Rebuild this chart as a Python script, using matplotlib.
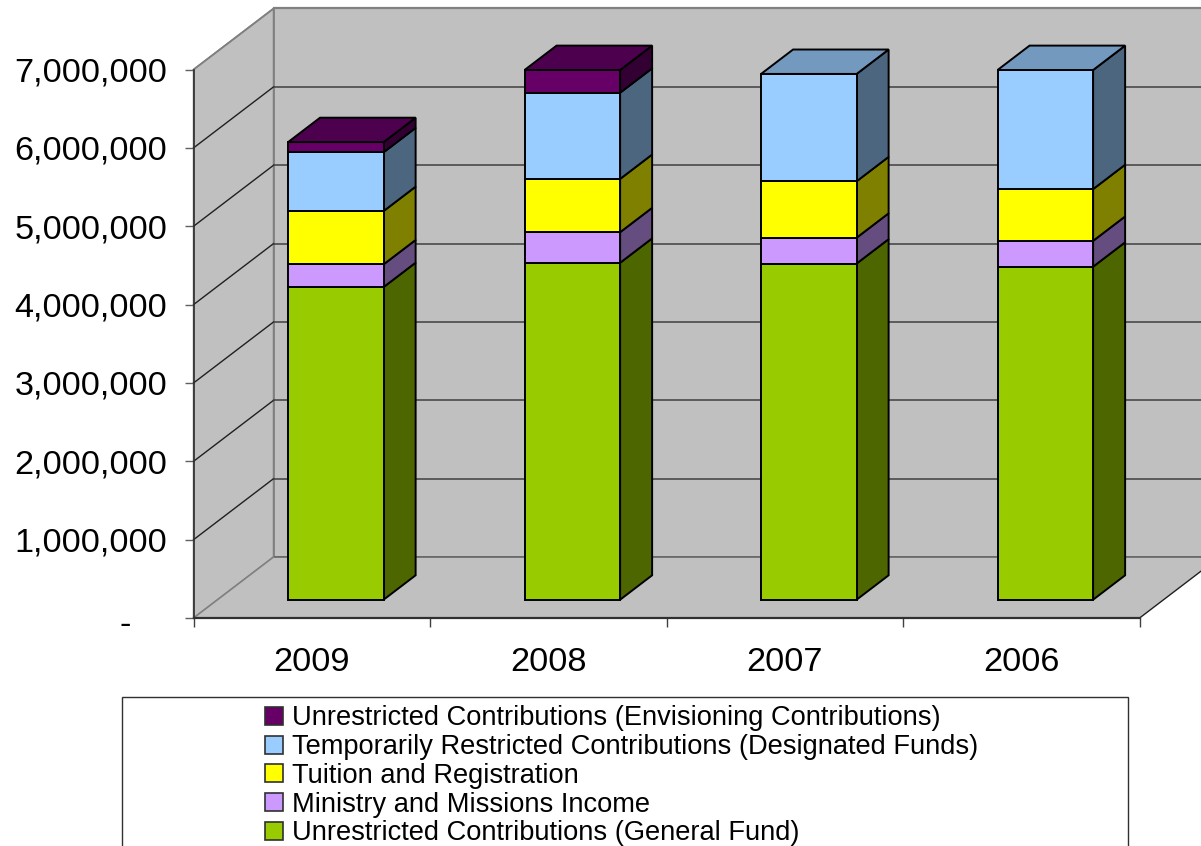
import matplotlib
matplotlib.use('Agg')
import matplotlib.pyplot as plt
from matplotlib.patches import Patch, Rectangle, Polygon
from matplotlib.transforms import ScaledTranslation

plt.rcParams['font.family'] = ['Liberation Sans', 'DejaVu Sans']

# data, top to bottom in the legend is reverse of the stack
years = ['2009', '2008', '2007', '2006']
general_fund = [3990000, 4300000, 4290000, 4250000]
ministry = [290000, 390000, 330000, 330000]
tuition = [680000, 680000, 720000, 660000]
designated = [750000, 1100000, 1370000, 1520000]
envisioning = [130000, 290000, 0, 0]

y_ticks = [0, 1000000, 2000000, 3000000, 4000000, 5000000, 6000000, 7000000]

names = ['Unrestricted Contributions (General Fund)', 'Ministry and Missions Income',
         'Tuition and Registration', 'Temporarily Restricted Contributions (Designated Funds)',
         'Unrestricted Contributions (Envisioning Contributions)']
series = [general_fund, ministry, tuition, designated, envisioning]
front_cols = ['#99CC00', '#CC99FF', '#FFFF00', '#99CCFF', '#660066']
side_cols = ['#4D6600', '#664D80', '#808000', '#4D6680', '#330033']
top_cols = ['#739900', '#9973BF', '#BFBF00', '#7399BF', '#4D004D']

W, H = 1201, 846
fig = plt.figure(figsize=(W / 100, H / 100), dpi=100)
ax = fig.add_axes([193.6 / W, (H - 618) / H, 946 / W, 548.5 / H])
ax.set_xlim(0, 4)
ax.set_ylim(0, 7000000)
ax.patch.set_visible(False)

# how far one unit of depth moves a point, in data units
DX = 80 / 236.5
DY = 61 / 78.35 * 1000000


def proj(x, y, d):
    return (x + d * DX, y + d * DY)


def poly(points, face, edge, lw, z):
    ax.add_patch(Polygon([proj(*p) for p in points], closed=True, facecolor=face,
                         edgecolor=edge, linewidth=lw, zorder=z, clip_on=False,
                         joinstyle='miter'))


def line(p1, p2, col, lw, z=2):
    a, b = proj(*p1), proj(*p2)
    ax.plot([a[0], b[0]], [a[1], b[1]], color=col, linewidth=lw, zorder=z, clip_on=False)


# walls and floor
top = y_ticks[-1]
poly([(0, 0, 1), (4, 0, 1), (4, top, 1), (0, top, 1)], '#C0C0C0', '#808080', 1.2, 1)
poly([(0, 0, 0), (0, 0, 1), (0, top, 1), (0, top, 0)], '#C0C0C0', '#808080', 1.2, 1)
poly([(0, 0, 0), (4, 0, 0), (4, 0, 1), (0, 0, 1)], '#C0C0C0', 'none', 0, 1)
line((0, 0, 1), (4, 0, 1), '#606060', 1.1)
line((0, 0, 0), (0, 0, 1), '#808080', 1.1)
line((4, 0, 0), (4, 0, 1), '#202020', 1.0)

for t in y_ticks[1:-1]:
    line((0, t, 0), (0, t, 1), '#202020', 1.0)
    line((0, t, 1), (4, t, 1), '#404040', 1.1)
line((0, top, 0), (0, top, 1), '#808080', 1.2)
line((0, top, 1), (4, top, 1), '#808080', 1.6)

# stacked bars
x0 = 0.298
bw = 0.404
d0, d1 = 0.3, 0.7
for i in range(len(years)):
    base = 0
    z = 5
    last = 0
    for s in range(len(series)):
        v = series[s][i]
        if v == 0:
            continue
        l = i + x0
        r = l + bw
        poly([(r, base, d0), (r, base, d1), (r, base + v, d1), (r, base + v, d0)],
             side_cols[s], 'black', 1.4, z)
        poly([(l, base, d0), (r, base, d0), (r, base + v, d0), (l, base + v, d0)],
             front_cols[s], 'black', 1.4, z + 0.1)
        base += v
        last = s
    poly([(l, base, d0), (r, base, d0), (r, base, d1), (l, base, d1)],
         top_cols[last], 'black', 1.4, z + 0.2)

# axes
for sp in ['top', 'right']:
    ax.spines[sp].set_visible(False)
ax.spines['left'].set_color('#303030')
ax.spines['bottom'].set_color('#303030')
ax.spines['left'].set_linewidth(1.2)
ax.spines['bottom'].set_linewidth(1.6)
for sp in ax.spines.values():
    sp.set_zorder(3)

ax.set_yticks(y_ticks)
ax.set_yticklabels(['-' if t == 0 else format(t, ',') for t in y_ticks], fontsize=24.7)
ax.set_xticks([0, 1, 2, 3, 4])
ax.set_xticklabels([])
ax.set_xticks([0.5, 1.5, 2.5, 3.5], minor=True)
ax.set_xticklabels(years, minor=True, fontsize=24.7)
ax.tick_params(axis='x', which='major', length=6.5, width=1, color='#404040')
ax.tick_params(axis='x', which='minor', length=0, pad=21)
ax.tick_params(axis='y', length=6.5, width=1, color='#606060', pad=12.5)
ax.get_yticklabels()[0].set_transform(ax.get_yticklabels()[0].get_transform() +
                                      ScaledTranslation(-26 / 72, -3 / 72, fig.dpi_scale_trans))

# legend box runs off the bottom of the picture
fig.add_artist(Rectangle((122 / W, -10 / H), 1006 / W, (H - 697 + 10) / H,
                         transform=fig.transFigure, facecolor='white',
                         edgecolor='#303030', linewidth=1))
handles = [Patch(facecolor=front_cols[s], edgecolor='#303030', linewidth=1.2, label=names[s])
           for s in range(4, -1, -1)]
leg = fig.legend(handles=handles, loc='upper left', bbox_to_anchor=(259.6 / W, (H - 700) / H),
                 frameon=False, fontsize=19.6, handlelength=0.65, handleheight=0.65,
                 handletextpad=0.33, labelspacing=0.1, borderpad=0.2, borderaxespad=0)
leg.set_zorder(10)

fig.savefig('out.png', dpi=100)
